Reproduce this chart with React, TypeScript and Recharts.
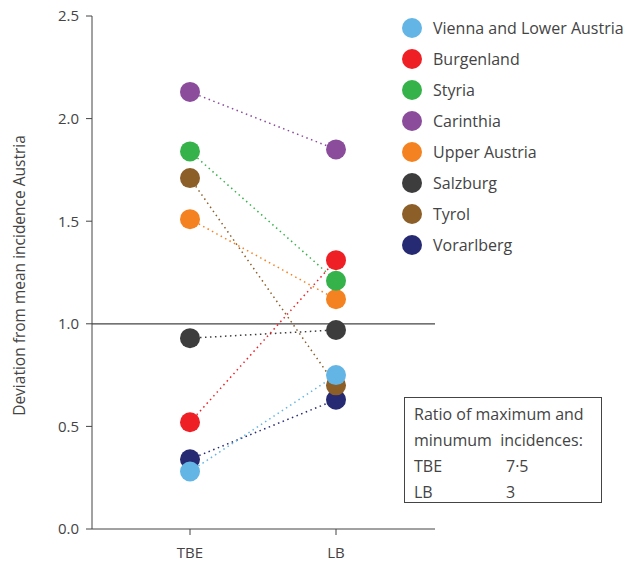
import { LineChart, Line, XAxis, YAxis, ReferenceLine } from "recharts";

const categories = ["TBE", "LB"];
const regions = [
  "Vienna and Lower Austria",
  "Burgenland",
  "Styria",
  "Carinthia",
  "Upper Austria",
  "Salzburg",
  "Tyrol",
  "Vorarlberg",
];
const colors = ["#62b5e5", "#ee2026", "#36b24a", "#8a4c9b", "#f58220", "#3d3d3d", "#8c5e28", "#262a72"];
const tbeValues = [0.28, 0.52, 1.84, 2.13, 1.51, 0.93, 1.71, 0.34];
const lbValues = [0.75, 1.31, 1.21, 1.85, 1.12, 0.97, 0.7, 0.63];
const yTicks = [0, 0.5, 1, 1.5, 2, 2.5];

const data = categories.map((cat, i) => {
  const row: Record<string, string | number> = { cat };
  regions.forEach((r, j) => {
    row[r] = i === 0 ? tbeValues[j] : lbValues[j];
  });
  return row;
});

const FONT = "'Open Sans', sans-serif";
const TEXT = "#444";

function YLabel(props: any) {
  const vb = props.viewBox || {};
  const cy = vb.y + vb.height / 2 + 3;
  return (
    <text x={19} y={cy} transform={`rotate(-90, 19, ${cy})`} textAnchor="middle" dominantBaseline="central"
      fill={TEXT} fontSize={15.5} fontFamily={FONT}>
      Deviation from mean incidence Austria
    </text>
  );
}

function RegionLegend() {
  return (
    <div style={{ position: "absolute", left: 402, top: 12, fontFamily: FONT, fontSize: 16, color: TEXT }}>
      {regions.map((r, i) => (
        <div key={r} style={{ display: "flex", alignItems: "center", height: 31 }}>
          <div style={{ width: 20, height: 20, borderRadius: 10, background: colors[i], marginRight: 11 }} />
          <span>{r}</span>
        </div>
      ))}
    </div>
  );
}

export default function App() {
  return (
    <div style={{ position: "absolute", left: 0, top: 0, width: 625, height: 567, background: "#fff" }}>
      <LineChart width={625} height={567} data={data} margin={{ top: 16, right: 190, left: 0, bottom: 8 }}>
        <XAxis
          dataKey="cat"
          padding={{ left: 98, right: 99 }}
          stroke="#444"
          tick={{ fill: TEXT, fontSize: 15, fontFamily: FONT }}
          tickMargin={12}
          height={30}
        />
        <YAxis
          domain={[0, 2.5]}
          ticks={yTicks}
          width={92}
          stroke="#444"
          tickFormatter={(v: number) => v.toFixed(1)}
          tick={{ fill: TEXT, fontSize: 15, fontFamily: FONT }}
          tickMargin={7}
          label={<YLabel />}
        />
        <ReferenceLine y={1} stroke="#444" strokeWidth={1.2} />
        {regions
          .map((r, i) => ({ r, i }))
          .reverse()
          .map(({ r, i }) => (
            <Line
              key={r}
              dataKey={r}
              stroke={colors[i]}
              strokeWidth={1.5}
              strokeDasharray="1.5 3.5"
              dot={{ r: 10, fill: colors[i], stroke: "none" }}
              activeDot={false}
              isAnimationActive={false}
            />
          ))}
      </LineChart>
      <RegionLegend />
      <div
        style={{
          position: "absolute",
          left: 404,
          top: 397,
          width: 198,
          height: 106,
          border: "1.5px solid #444",
          fontFamily: FONT,
          fontSize: 16,
          color: TEXT,
          lineHeight: "26px",
          padding: "3px 0 0 9px",
          boxSizing: "border-box",
          whiteSpace: "pre",
        }}
      >
        <div>Ratio of maximum and</div>
        <div>minumum  incidences:</div>
        <div style={{ display: "flex" }}>
          <span style={{ width: 92 }}>TBE</span>
          <span>7·5</span>
        </div>
        <div style={{ display: "flex" }}>
          <span style={{ width: 92 }}>LB</span>
          <span>3</span>
        </div>
      </div>
    </div>
  );
}
